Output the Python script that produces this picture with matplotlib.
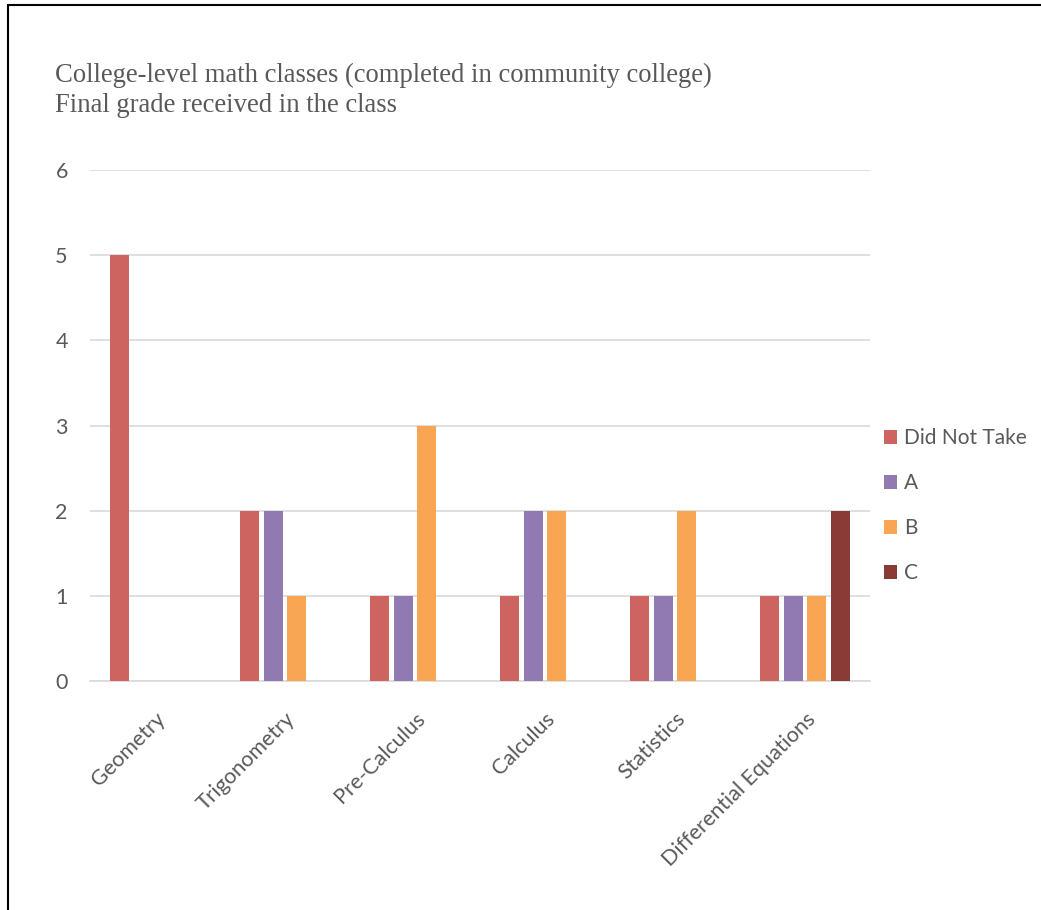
import numpy as np
import matplotlib
matplotlib.use("Agg")
import matplotlib.pyplot as plt
from matplotlib.patches import Rectangle

# Data
categories = ["Geometry", "Trigonometry", "Pre-Calculus", "Calculus",
              "Statistics", "Differential Equations"]
did_not_take = [5, 2, 1, 1, 1, 1]
grade_a = [0, 2, 1, 2, 1, 1]
grade_b = [0, 1, 3, 2, 2, 1]
grade_c = [0, 0, 0, 0, 0, 2]
series_names = ["Did Not Take", "A", "B", "C"]
colors = ["#CD6460", "#9179B2", "#F9A654", "#8B3B36"]

fig = plt.figure(figsize=(10.41, 9.10), dpi=100)
ax = fig.add_axes([90 / 1041, 1 - 681 / 910, 780 / 1041, 511 / 910])

# frame around the chart (only left and top visible in the reference)
fig.patches.append(Rectangle((8 / 1041, -0.1), 1.2, 0.1 + 1 - 5 / 910,
                             transform=fig.transFigure, fill=False,
                             edgecolor="black", linewidth=1.5))

x = np.arange(len(categories))
width = 0.146
step = 0.18
series = [did_not_take, grade_a, grade_b, grade_c]
for i, (vals, name, col) in enumerate(zip(series, series_names, colors)):
    ax.bar(x + (i - 1.5) * step, vals, width, color=col, label=name, zorder=3)

ax.set_xlim(-0.5, len(categories) - 0.5)
ax.set_ylim(0, 6)
ax.set_yticks(range(7))
ax.grid(axis="y", color="#D9D9D9", linewidth=1.2, zorder=0)
for s in ["top", "right", "left"]:
    ax.spines[s].set_visible(False)
ax.spines["bottom"].set_color("#D9D9D9")
ax.spines["bottom"].set_linewidth(1.2)
ax.tick_params(axis="both", length=0, colors="#595959", labelsize=15.5)
ax.tick_params(axis="y", pad=16)
ax.tick_params(axis="x", pad=20)
ax.set_xticks(x)
ax.set_xticklabels(categories, rotation=45, ha="right", rotation_mode="anchor",
                   fontfamily="Lato")
for lab in ax.get_yticklabels():
    lab.set_fontfamily("Lato")

leg = ax.legend(loc="center left", bbox_to_anchor=(1.004, 0.343), frameon=False,
                prop={"family": "Lato", "size": 15}, labelcolor="#595959",
                handlelength=0.65, handleheight=0.65, handletextpad=0.35,
                labelspacing=1.2, borderpad=0)

fig.text(55 / 1041, 1 - 75 / 910, "College-level math classes (completed in community college)",
         fontfamily="Liberation Serif", fontsize=19.2, color="#595959", va="center")
fig.text(55 / 1041, 1 - 105 / 910, "Final grade received in the class",
         fontfamily="Liberation Serif", fontsize=19.2, color="#595959", va="center")

fig.savefig("out.png", dpi=100)
